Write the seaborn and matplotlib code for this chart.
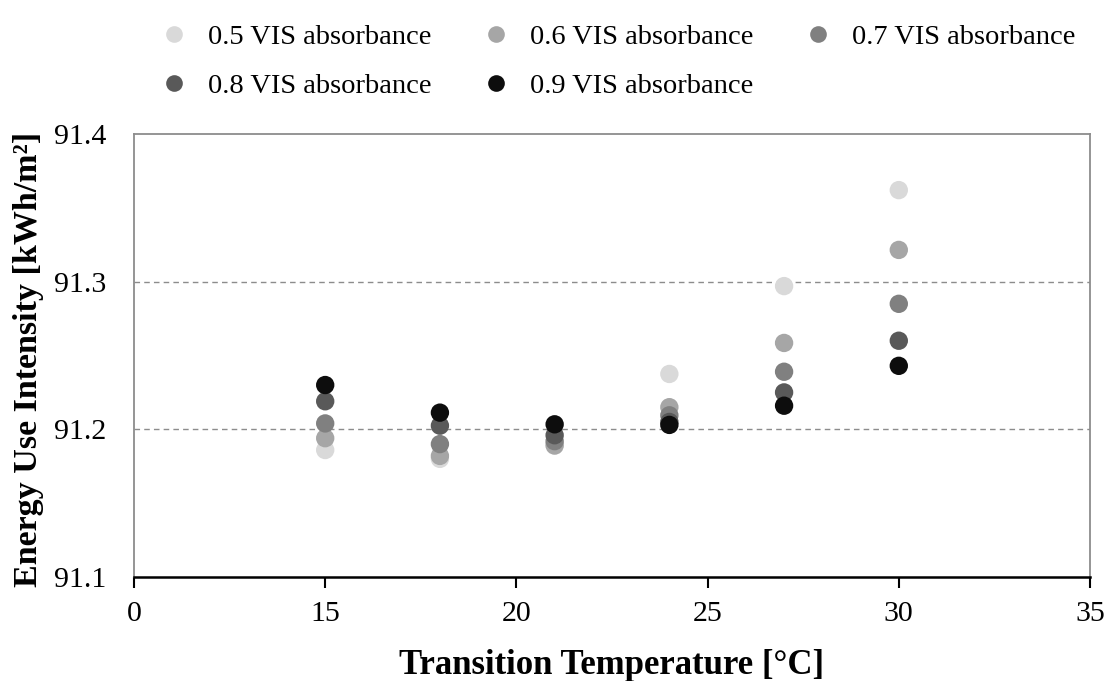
import matplotlib
matplotlib.use("Agg")
import matplotlib.pyplot as plt
import matplotlib.transforms as mtransforms
from matplotlib.lines import Line2D
import seaborn as sns
import pandas as pd

# ---- data ----
temperatures = [15, 18, 21, 24, 27, 30]
series_names = ["0.5 VIS absorbance", "0.6 VIS absorbance", "0.7 VIS absorbance",
                "0.8 VIS absorbance", "0.9 VIS absorbance"]
eui_05 = [91.186, 91.180, 91.190, 91.2375, 91.297, 91.362]
eui_06 = [91.194, 91.182, 91.189, 91.215, 91.2585, 91.3215]
eui_07 = [91.204, 91.190, 91.192, 91.2095, 91.239, 91.285]
eui_08 = [91.219, 91.2025, 91.196, 91.205, 91.225, 91.260]
eui_09 = [91.230, 91.2113, 91.2034, 91.203, 91.216, 91.243]
series_colors = ["#d9d9d9", "#a6a6a6", "#808080", "#595959", "#0d0d0d"]
x_ticks = [10, 15, 20, 25, 30, 35]
x_tick_labels = ["0", "15", "20", "25", "30", "35"]
y_ticks = [91.1, 91.2, 91.3, 91.4]
y_tick_labels = ["91.1", "91.2", "91.3", "91.4"]

rows = []
for name, vals in zip(series_names, [eui_05, eui_06, eui_07, eui_08, eui_09]):
    for t, v in zip(temperatures, vals):
        rows.append({"Transition Temperature": t, "EUI": v, "Series": name})
df = pd.DataFrame(rows)

sns.set_theme(style="white")
plt.rcParams["font.family"] = ["Liberation Serif", "DejaVu Serif"]
plt.rcParams["text.color"] = "black"
plt.rcParams["axes.labelcolor"] = "black"

fig = plt.figure(figsize=(11.1, 6.81), dpi=100)
ax = fig.add_axes([134 / 1110, 1 - 577 / 681, (1090 - 134) / 1110, (577 - 134) / 681])

sns.scatterplot(data=df, x="Transition Temperature", y="EUI", hue="Series",
                hue_order=series_names, palette=series_colors, s=175,
                linewidth=0, edgecolor="none", legend=False, ax=ax, zorder=3)

ax.set_xlim(10, 35)
ax.set_ylim(91.1, 91.4)
ax.set_xticks(x_ticks)
ax.set_xticklabels(x_tick_labels, fontsize=21.5, color="black")
ax.set_yticks(y_ticks)
ax.set_yticklabels(y_tick_labels, fontsize=21.5, color="black")

# first label offset (clipped "10" appearance)
first = ax.get_xticklabels()[0]
first.set_transform(first.get_transform() + mtransforms.ScaledTranslation(8 / 100, 0, fig.dpi_scale_trans))

ax.tick_params(axis="x", which="major", direction="out", length=8, width=1.5,
               color="black", bottom=True, pad=9)
ax.tick_params(axis="y", which="major", length=0, pad=20)

for y in [91.2, 91.3]:
    ax.axhline(y, color="#8c8c8c", linestyle=(0, (4, 3)), linewidth=1.0, zorder=1)

for side in ["left", "top", "right"]:
    ax.spines[side].set_color("#8c8c8c")
    ax.spines[side].set_linewidth(1.3)
ax.spines["bottom"].set_color("black")
ax.spines["bottom"].set_linewidth(1.8)
ax.spines["bottom"].set_zorder(4)

ax.set_xlabel("Transition Temperature [°C]", fontsize=25, fontweight="bold",
              labelpad=16, color="black")
ax.set_ylabel("Energy Use Intensity [kWh/m²]", fontsize=24.5, fontweight="bold",
              color="black")
ax.yaxis.set_label_coords(-0.094, 0.49)

handles = [Line2D([0], [0], marker="o", linestyle="none", markersize=12,
                  markerfacecolor=c, markeredgecolor="none") for c in series_colors]
# column-major fill for ncol=3 -> rows: (0.5, 0.6, 0.7), (0.8, 0.9)
order = [0, 3, 1, 4, 2]
fig.legend([handles[i] for i in order], [series_names[i] for i in order],
           loc="upper left", bbox_to_anchor=(160 / 1110, 1 - 24 / 681),
           ncol=3, frameon=False, fontsize=20.5, handlelength=1.0, handletextpad=0.7,
           columnspacing=1.75, labelspacing=0.8, borderpad=0, borderaxespad=0,
           labelcolor="black")

fig.savefig("out.png", dpi=100)
